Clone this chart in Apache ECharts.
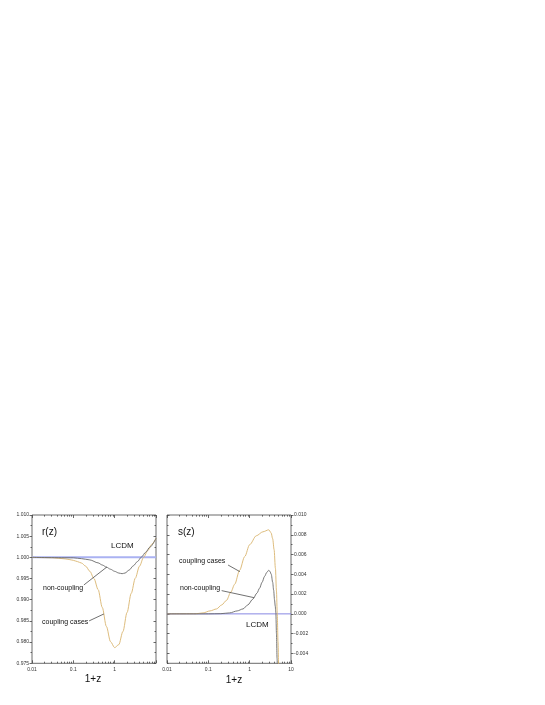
<!DOCTYPE html>
<html>
<head>
<meta charset="utf-8">
<script src="https://cdn.jsdelivr.net/npm/echarts@6/dist/echarts.min.js"></script>
<style>
  html, body { margin: 0; padding: 0; background: #fff; }
  #chart { width: 545px; height: 705px; }
</style>
</head>
<body>
<div id="chart"></div>
<script>
// log10 tick positions for 1+z, and their labels
const logTicks = [-2, -1, 0, 1]
const xTickLabels = ['0.01', '0.1', '1', '10']

const rTicks = [0.975, 0.980, 0.985, 0.990, 0.995, 1.000, 1.005, 1.010]
const rTickLabels = ['0.975', '0.980', '0.985', '0.990', '0.995', '1.000', '1.005', '1.010']
const sTicks = [-0.004, -0.002, 0, 0.002, 0.004, 0.006, 0.008, 0.010]
const sTickLabels = ['-0.004', '-0.002', '0.000', '0.002', '0.004', '0.006', '0.008', '0.010']

// r(z) curves
const rNonX = [0.01, 0.1, 0.158, 0.251, 0.398, 0.501, 0.631, 0.794, 1.0, 1.259, 1.514, 1.778, 2.239, 2.818, 3.548, 4.467, 5.623, 7.079, 10]
const rNonY = [1.0, 0.9999, 0.9997, 0.9994, 0.9987, 0.9982, 0.9977, 0.9972, 0.9967, 0.9963, 0.99615, 0.9963, 0.9970, 0.9980, 0.9990, 1.0001, 1.0012, 1.0024, 1.0045]
const rCoupX = [0.01, 0.0316, 0.063, 0.079, 0.1, 0.126, 0.158, 0.2, 0.251, 0.316, 0.398, 0.501, 0.631, 0.794, 1.0, 1.259, 1.585, 1.995, 2.512, 3.162, 3.981, 5.012, 6.31, 7.943, 10]
const rCoupY = [1.0, 0.9999, 0.99965, 0.9995, 0.9993, 0.9990, 0.99865, 0.9979, 0.9967, 0.9950, 0.9924, 0.9882, 0.9837, 0.9801, 0.9787, 0.9794, 0.9825, 0.9870, 0.9915, 0.9951, 0.9979, 1.0, 1.0016, 1.0031, 1.0045]
const rLcdmX = [0.01, 10]
const rLcdmY = [1.0, 1.0]

// s(z) curves
const sNonX = [0.01, 0.1, 0.2, 0.33, 0.5, 0.69, 0.9, 1.2, 1.5, 1.74, 2.0, 2.3, 2.6, 2.87, 3.1, 3.33, 3.6, 3.8, 4.0, 4.15, 4.3, 4.45, 4.6, 4.75]
const sNonY = [0, 0, 0.00002, 0.0001, 0.0003, 0.0005, 0.0009, 0.0015, 0.0021, 0.0026, 0.0032, 0.0038, 0.0042, 0.0044, 0.0043, 0.0040, 0.0032, 0.0024, 0.0014, 0.0008, 0.0001, -0.002, -0.0045, -0.007]
const sCoupX = [0.01, 0.05, 0.075, 0.11, 0.158, 0.21, 0.275, 0.35, 0.435, 0.57, 0.76, 1.0, 1.45, 2.09, 2.9, 3.3, 3.6, 3.9, 4.2, 4.45, 4.65, 4.85, 5.05, 5.2]
const sCoupY = [0, 0.00001, 0.0001, 0.0003, 0.0005, 0.0009, 0.00136, 0.0022, 0.0030, 0.0044, 0.0058, 0.0070, 0.0079, 0.0083, 0.0085, 0.0082, 0.0076, 0.0065, 0.0046, 0.0023, 0, -0.0028, -0.0055, -0.007]
const sLcdmX = [0.01, 10]
const sLcdmY = [0, 0]

const font = 'Liberation Sans, Arial, sans-serif'
const toPairs = (xs, ys) => xs.map((x, i) => [Math.log10(x), ys[i]])

const logMinor = []
for (let d = -2; d < 1; d++) {
  for (let k = 2; k <= 9; k++) logMinor.push(d + Math.log10(k))
}
const rMinor = rTicks.slice(0, -1).map((v, i) => (v + rTicks[i + 1]) / 2)
const sMinor = [-0.005, -0.003, -0.001, 0.001, 0.003, 0.005, 0.007, 0.009]

const tickLine = { color: '#444', width: 0.8 }
const noLine = { show: false, onZero: false }

function xAxes (grid, labels) {
  const base = { type: 'value', gridIndex: grid, min: -2, max: 1, splitLine: { show: false }, axisLine: noLine }
  return [
    Object.assign({}, base, {
      position: 'bottom',
      axisTick: { inside: true, length: 3, lineStyle: tickLine, customValues: logTicks },
      axisLabel: {
        customValues: labels, fontSize: 5, color: '#333', fontFamily: font, margin: 4,
        formatter: v => xTickLabels[logTicks.indexOf(Math.round(v))]
      }
    }),
    Object.assign({}, base, {
      position: 'bottom',
      axisTick: { inside: true, length: 1.6, lineStyle: tickLine, customValues: logMinor },
      axisLabel: { show: false }
    }),
    Object.assign({}, base, {
      position: 'top',
      axisTick: { inside: true, length: 3, lineStyle: tickLine, customValues: logTicks },
      axisLabel: { show: false }
    }),
    Object.assign({}, base, {
      position: 'top',
      axisTick: { inside: true, length: 1.6, lineStyle: tickLine, customValues: logMinor },
      axisLabel: { show: false }
    })
  ]
}

function yAxes (grid, min, max, ticks, tickLabels, minor, labelSide) {
  const other = labelSide === 'left' ? 'right' : 'left'
  const base = { type: 'value', gridIndex: grid, min: min, max: max, splitLine: { show: false }, axisLine: noLine }
  return [
    Object.assign({}, base, {
      position: labelSide,
      axisTick: { inside: false, length: 2.5, lineStyle: tickLine, customValues: ticks },
      axisLabel: {
        customValues: ticks, fontSize: 5, color: '#333', fontFamily: font, margin: 3,
        formatter: v => tickLabels[ticks.findIndex(t => Math.abs(t - v) < 1e-9)]
      }
    }),
    Object.assign({}, base, {
      position: labelSide,
      axisTick: { inside: false, length: 1.5, lineStyle: tickLine, customValues: minor },
      axisLabel: { show: false }
    }),
    Object.assign({}, base, {
      position: other,
      axisTick: { inside: true, length: 2.5, lineStyle: tickLine, customValues: ticks },
      axisLabel: { show: false }
    }),
    Object.assign({}, base, {
      position: other,
      axisTick: { inside: true, length: 1.5, lineStyle: tickLine, customValues: minor },
      axisLabel: { show: false }
    })
  ]
}

function curve (xi, yi, data, color, width, extra) {
  return Object.assign({
    type: 'line', xAxisIndex: xi, yAxisIndex: yi, data: data,
    showSymbol: false, symbol: 'none', smooth: 0.3, smoothMonotone: 'x',
    lineStyle: { color: color, width: width }, clip: true, silent: true
  }, extra || {})
}

function arrow (from, to) {
  return {
    silent: true, symbol: ['none', 'arrow'], symbolSize: [0, 5],
    label: { show: false },
    lineStyle: { color: '#333', width: 0.7, type: 'solid' },
    data: [[{ coord: from }, { coord: to }]]
  }
}

function text (x, y, str, size, align) {
  return {
    type: 'text', x: x, y: y,
    style: { text: str, fontSize: size, fontFamily: font, fill: '#111', textAlign: align || 'left', textVerticalAlign: 'middle' }
  }
}

const chart = echarts.init(document.getElementById('chart'), null, { renderer: 'canvas' })
const yellow = '#d9b46e'
const gray = '#6a6a6a'

const option = {
  backgroundColor: '#fff',
  animation: false,
  grid: [
    { left: 32, top: 515, width: 124, height: 148.3, show: true, borderColor: '#444', borderWidth: 0.8, containLabel: false },
    { left: 167, top: 515, width: 124, height: 148.3, show: true, borderColor: '#444', borderWidth: 0.8, containLabel: false }
  ],
  xAxis: [].concat(xAxes(0, [-2, -1, 0]), xAxes(1, [-2, -1, 0, 1])),
  yAxis: [].concat(
    yAxes(0, 0.975, 1.010, rTicks, rTickLabels, rMinor, 'left'),
    yAxes(1, -0.005, 0.010, sTicks, sTickLabels, sMinor, 'right')
  ),
  series: [
    curve(0, 0, toPairs(rLcdmX, rLcdmY), '#aab2f2', 2, { smooth: false }),
    curve(0, 0, toPairs(rCoupX, rCoupY), yellow, 0.9, {
      markLine: arrow([Math.log10(0.24), 0.9850], [Math.log10(0.55), 0.98665])
    }),
    curve(0, 0, toPairs(rNonX, rNonY), gray, 0.9, {
      markLine: arrow([Math.log10(0.18), 0.99349], [Math.log10(0.65), 0.99774])
    }),
    curve(4, 4, toPairs(sLcdmX, sLcdmY), '#7a7ae0', 0.9, { smooth: false }),
    curve(4, 4, toPairs(sCoupX, sCoupY), yellow, 0.9, {
      markLine: arrow([Math.log10(0.30), 0.00494], [Math.log10(0.58), 0.00427])
    }),
    curve(4, 4, toPairs(sNonX, sNonY), gray, 0.9, {
      markLine: arrow([Math.log10(0.21), 0.00235], [Math.log10(1.27), 0.00164])
    })
  ],
  graphic: [
    text(42, 532, 'r(z)', 10),
    text(111, 546, 'LCDM', 8),
    text(43, 588, 'non-coupling', 7),
    text(42, 622, 'coupling cases', 7),
    text(93, 679, '1+z', 10, 'center'),
    text(178, 532, 's(z)', 10),
    text(179, 561, 'coupling cases', 7),
    text(180, 588, 'non-coupling', 7),
    text(246, 625, 'LCDM', 8),
    text(234, 680, '1+z', 10, 'center')
  ]
}
chart.setOption(option)
</script>
</body>
</html>
